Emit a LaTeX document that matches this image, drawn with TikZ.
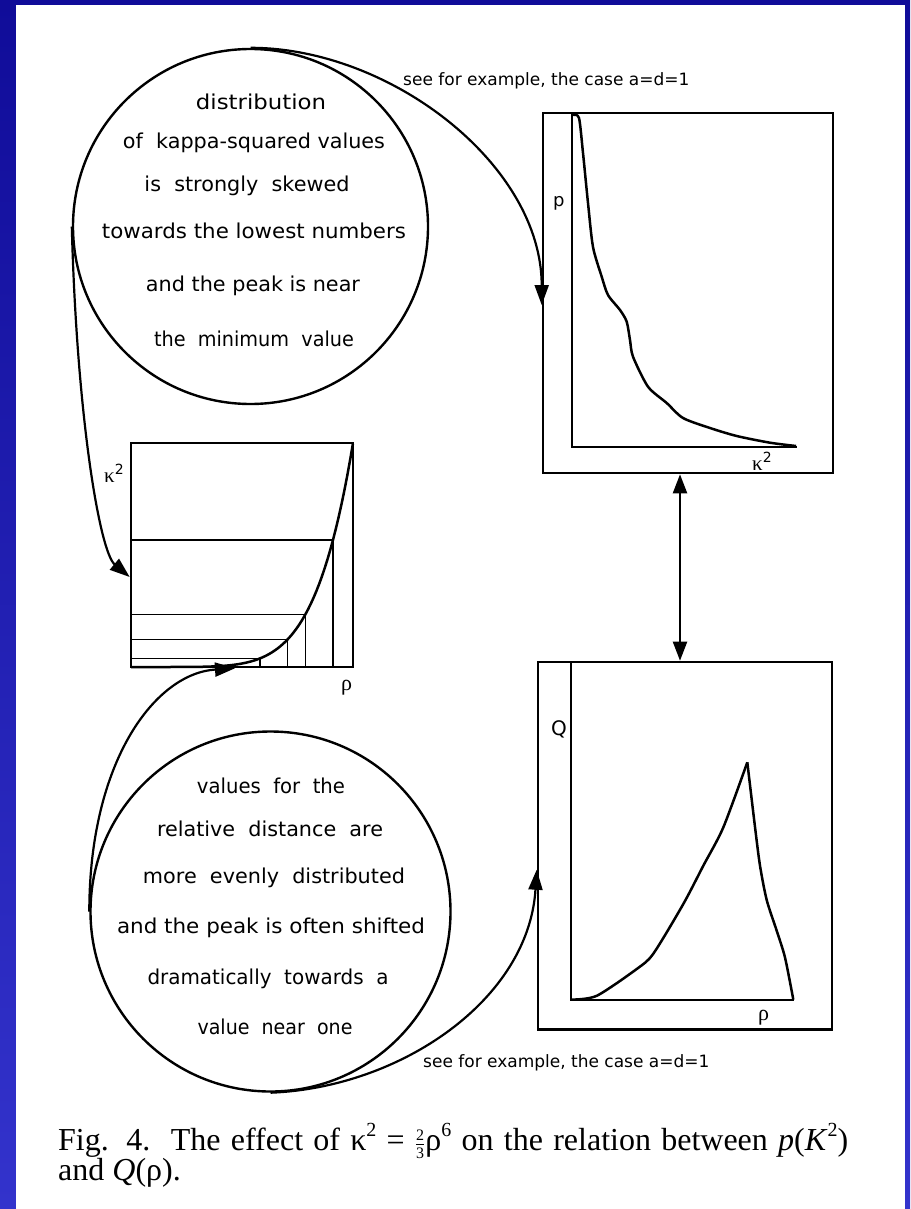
\documentclass[tikz,border=0pt]{standalone}
\usepackage{fontspec}
\usepackage{graphicx}
\usetikzlibrary{arrows.meta,calc}
\newfontfamily\dv{DejaVu Sans}
\newfontfamily\tms{Liberation Serif}
\definecolor{topblue}{RGB}{16,12,153}
\definecolor{botblue}{RGB}{51,51,204}
\newcommand\fw[2]{\resizebox{#1pt}{\height}{#2}}
\newcommand\mysup[1]{\raisebox{0.42em}{\fontsize{20}{20}\selectfont #1}}
\newcommand\myfrac{$\frac{\hbox{\fontsize{16}{16}\selectfont 2}}{\hbox{\fontsize{16}{16}\selectfont 3}}$}
\begin{document}
\begin{tikzpicture}[x=1pt,y=-1pt,
  bubble/.style={draw, circle, line width=2.4pt, inner sep=0pt},
  ctext/.style={anchor=base, inner sep=0pt, font=\dv\fontsize{20.5}{24}\selectfont},
  plotframe/.style={draw, rectangle, line width=2.6pt, inner sep=0pt},
  axisline/.style={line width=2.5pt},
  guideline/.style={line width=1.5pt},
  plotcurve/.style={line width=2.5pt, line join=round},
  linkarrow/.style={line width=2.2pt, -{Triangle[length=20pt,width=14pt]}},
  dlinkarrow/.style={line width=2.2pt, {Triangle[length=19pt,width=14pt]}-{Triangle[length=19pt,width=14pt]}},
  notetext/.style={anchor=base west, inner sep=0pt, font=\dv\fontsize{17}{20}\selectfont},
  labtext/.style={anchor=base west, inner sep=0pt},
  captext/.style={anchor=base west, inner sep=0pt, font=\tms\fontsize{32}{38}\selectfont}
]
\useasboundingbox (0,0) rectangle (910,1209);
% background
\shade[top color=topblue, bottom color=botblue] (0,0) rectangle (910,1209);
\fill[white] (16,5) rectangle (905,1209);

% circles
\node[bubble, minimum size=355pt] (c1) at (250.5,226.5) {};
\node[bubble, minimum size=360pt] (c2) at (270.5,911.5) {};

% circle texts
\node[ctext] (t11) at (261,110) {\fw{130}{distribution}};
\node[ctext] (t12) at (254,149) {\fw{262}{of\ \ kappa-squared values}};
\node[ctext] (t13) at (247,191) {\fw{205}{is\ \ strongly\ \ skewed}};
\node[ctext] (t14) at (254,238) {\fw{304}{towards\ the\ lowest\ numbers}};
\node[ctext] (t15) at (253,291) {\fw{214}{and the peak is near}};
\node[ctext] (t16) at (254,346) {\fw{200}{the\ \ minimum\ \ value}};

\node[ctext] (t21) at (271,793) {\fw{148}{values\ \ for\ \ the}};
\node[ctext] (t22) at (270,836) {\fw{226}{relative\ \ distance\ \ are}};
\node[ctext] (t23) at (274,883) {\fw{262}{more\ \ evenly\ \ distributed}};
\node[ctext] (t24) at (271,933) {\fw{308}{and the peak is often shifted}};
\node[ctext] (t25) at (268,984) {\fw{241}{dramatically\ \ towards\ \ a}};
\node[ctext] (t26) at (275,1034) {\fw{155}{value\ \ near\ \ one}};

% plot frames
\node[plotframe, minimum width=290pt, minimum height=360pt] (pbox) at (688,293) {};
\node[plotframe, minimum width=222pt, minimum height=224pt] (kbox) at (242,555) {};
\node[plotframe, minimum width=294pt, minimum height=367.5pt] (qbox) at (685,845.75) {};

% top-right plot p(kappa^2)
\draw[axisline] (572,113) -- (572,447) -- (797,447);
\draw[plotcurve] plot[smooth, tension=0.45] coordinates {(573,115) (579,118) (583,153) (588,203) (593,247) (601.7,276.7) (608,295) (620,310) (626.7,321.7) (630,340) (633,356.7) (648,386.7) (666.7,403) (683,418) (710,428) (736.7,436) (770,442.7) (796,446)};
\node[labtext, font=\dv\fontsize{18}{20}\selectfont] (plab) at (553,206) {p};
\node[labtext, font=\tms\fontsize{21}{24}\selectfont] (klab1) at (752,470) {κ\raisebox{8pt}{\dv\fontsize{14}{14}\selectfont 2}};

% left plot kappa^2 vs rho
\draw[plotcurve] plot[domain=0:1, samples=80] ({131+222*\x},{667-224*(\x^6)});
\foreach \r in {0.58,0.705,0.785,0.91} {
  \draw[guideline] (131,{667-224*(\r^6)}) -| ({131+222*\r},667);
}
\node[labtext, font=\tms\fontsize{21}{24}\selectfont] (klab2) at (104,482) {κ\raisebox{8pt}{\dv\fontsize{14}{14}\selectfont 2}};
\node[labtext, font=\tms\fontsize{22}{24}\selectfont] (rlab1) at (341,690) {ρ};

% bottom-right plot Q(rho)
\draw[axisline] (571,662) -- (571,1000) -- (794,1000);
\draw[plotcurve] plot[smooth, tension=0.45] coordinates {(571.7,999.6) (596.7,995.8) (636.7,969) (653.3,953.7) (683.3,904) (703.3,865.7) (723.3,827.4) (747.3,762.3)};
\draw[plotcurve] plot[smooth, tension=0.45] coordinates {(747.3,762.3) (755,827) (760,865.7) (766.7,900) (776.7,930.7) (785,957.5) (793.3,999.6)};
\node[labtext, font=\dv\fontsize{20}{22}\selectfont] (qlab) at (551,735) {Q};
\node[labtext, font=\tms\fontsize{22}{24}\selectfont] (rlab2) at (758,1020) {ρ};

% connectors
\draw[linkarrow] (c1.north) .. controls +(140,0) and +(0,-140) .. ([yshift=-12pt]pbox.west);
\draw[linkarrow] (c1.west) .. controls +(5,190) and +(-30,-25) .. ([yshift=-22pt]kbox.west);
\draw[linkarrow] (c2.west) .. controls +(0,-150) and +(-80,5) .. ([xshift=-7pt]kbox.south);
\draw[linkarrow] (c2.south) .. controls +(130,-5) and +(-8,130) .. ([yshift=-24pt]qbox.west);
\draw[dlinkarrow] ([xshift=-8pt]pbox.south) -- ([xshift=-5pt]qbox.north);

% notes
\node[notetext] (n1) at (403,86) {see for example, the case a=d=1};
\node[notetext] (n2) at (423,1067) {see for example, the case a=d=1};

% caption
\node[captext] (cap1) at (58,1150) {\makebox[790pt][s]{Fig. 4.\ \ The effect of κ\mysup{2} = \myfrac ρ\mysup{6} on the relation between \textit{p}(\textit{K}\mysup{2})}};
\node[captext] (cap2) at (58,1180) {and \textit{Q}(ρ).};
\end{tikzpicture}
\end{document}
